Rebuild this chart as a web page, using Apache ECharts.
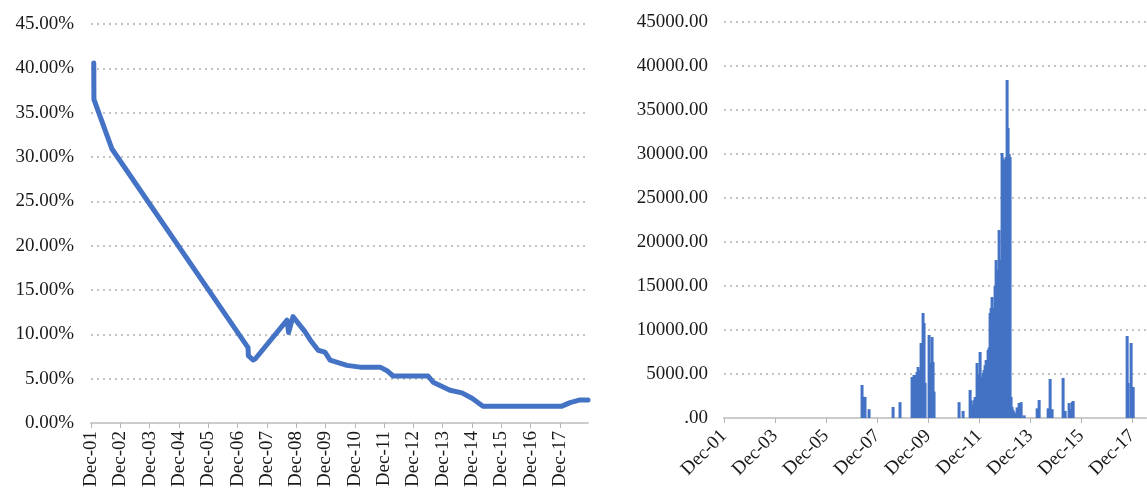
<!DOCTYPE html>
<html><head><meta charset="utf-8">
<script src="https://cdn.jsdelivr.net/npm/echarts@6/dist/echarts.min.js"></script>
<style>html,body{margin:0;padding:0;background:#fff}#c{width:1147px;height:493px}</style>
</head><body><div id="c"></div>
<script>
// Left chart: rate series (percent)
const rateDates = ["2002-01-05","2002-01-07","2002-08-19","2007-04-10","2007-04-14","2007-06-11","2007-07-15","2008-08-09","2008-08-28","2008-10-22","2009-03-19","2009-05-22","2009-09-01","2009-11-25","2010-01-28","2010-08-25","2011-02-07","2011-10-13","2012-01-07","2012-03-22","2013-06-01","2013-08-04","2014-03-01","2014-07-28","2014-12-01","2015-04-16","2017-12-25","2018-04-06","2018-08-09","2018-11-16"];
const rateValues = [40.6,36.5,30.9,8.5,7.6,7.1,7.3,11.6,10.2,12.0,10.3,9.4,8.2,8.0,7.1,6.5,6.3,6.3,5.9,5.3,5.3,4.6,3.7,3.4,2.8,1.9,1.9,2.3,2.6,2.6];
const leftTickLabels = ["Dec-01","Dec-02","Dec-03","Dec-04","Dec-05","Dec-06","Dec-07","Dec-08","Dec-09","Dec-10","Dec-11","Dec-12","Dec-13","Dec-14","Dec-15","Dec-16","Dec-17"];

// Right chart: volume bars
const volDates = ["2007-04-29","2007-05-13","2007-06-11","2007-08-08","2008-07-17","2008-10-25",
"2009-04-15","2009-04-29","2009-05-13","2009-05-27","2009-06-11","2009-06-25","2009-07-10","2009-07-24","2009-08-08","2009-08-22","2009-09-06","2009-09-20","2009-10-04","2009-10-18",
"2009-12-15","2009-12-29","2010-01-13","2010-01-27","2010-02-11","2010-02-25",
"2011-02-18","2011-04-15",
"2011-07-24","2011-08-08","2011-08-22","2011-09-06","2011-09-20","2011-10-04","2011-10-18","2011-11-02","2011-11-16","2011-12-01","2011-12-15","2011-12-29",
"2012-01-13","2012-01-27","2012-02-11","2012-02-25","2012-03-10","2012-03-24","2012-04-08","2012-04-22","2012-05-06","2012-05-20","2012-06-04","2012-06-18","2012-07-02","2012-07-16","2012-08-01","2012-08-15","2012-08-29","2012-09-13","2012-09-27","2012-10-11","2012-10-25","2012-11-09","2012-11-23","2012-12-08","2012-12-22",
"2013-01-06","2013-01-20","2013-02-04","2013-02-18","2013-03-02","2013-03-16","2013-04-01","2013-04-15","2013-04-29","2013-05-13","2013-05-27","2013-06-11","2013-06-25","2013-07-10","2013-07-24","2013-09-06",
"2014-03-10","2014-04-08","2014-08-15","2014-09-13","2014-10-11",
"2015-03-16","2015-04-15","2015-06-11","2015-07-10","2015-07-24","2015-08-08",
"2017-09-20","2017-10-04","2017-11-16","2017-12-15"];
const volValues = [3750,2400,2400,1000,1250,1800,
4660,2840,4890,4890,3180,5230,5800,2390,5450,8520,8070,11930,10800,4000,
9430,6250,5800,9200,6360,3000,
1800,800,
3180,2000,1480,1500,2000,2390,1200,6250,3980,5000,7500,4320,
4660,5110,5450,6000,6590,6250,7730,8000,11930,12500,13750,11930,12500,15000,17950,16820,14500,21360,18000,16020,30110,29500,29320,25900,29660,
38400,32950,30000,29660,2390,1250,900,680,500,400,1200,900,1700,1400,1800,300,
1100,2040,1100,4430,1000,
4550,800,1700,1000,1800,1930,
9320,3980,8520,3520];
const rightTickLabels = ["Dec-01","Dec-03","Dec-05","Dec-07","Dec-09","Dec-11","Dec-13","Dec-15","Dec-17"];

function monthsSinceDec01(s){const p=s.split('-').map(Number);return (p[0]-2001)*12+(p[1]-12)+(p[2]-1)/30;}

const rateData = rateDates.map((d,i)=>[monthsSinceDec01(d), rateValues[i]]);
const volData = volDates.map((d,i)=>[monthsSinceDec01(d), volValues[i]]);
const leftTicks = leftTickLabels.map((_,i)=>i*12);
const rightTicks = rightTickLabels.map((_,i)=>i*24);

const FONT = 'Liberation Serif';
const textStyle = {fontFamily: FONT, fontSize: 19, color: '#1a1a1a'};
const splitLine = {show:true, lineStyle:{color:'#c2c2c2', width:2, type:[2,4]}};
const axisLine = {show:true, lineStyle:{color:'#cccccc', width:2}};
const axisTick = {show:true, length:5, lineStyle:{color:'#b5b5b5', width:1}};

const chart = echarts.init(document.getElementById('c'), null, {renderer:'canvas'});
chart.setOption({
  animation:false,
  backgroundColor:'#fff',
  grid:[
    {left:91, right:559, top:24, bottom:70},
    {left:724, right:1, top:22, bottom:75}
  ],
  xAxis:[
    {gridIndex:0, type:'value', min:0, max:203.5, axisLine, splitLine:{show:false},
     axisTick:Object.assign({customValues:leftTicks}, axisTick),
     axisLabel:Object.assign({customValues:leftTicks, rotate:90, margin:8,
       formatter:v=>leftTickLabels[Math.round(v/12)]||''}, textStyle)},
    {gridIndex:1, type:'value', min:0, max:198.5, axisLine, splitLine:{show:false},
     axisTick:Object.assign({customValues:rightTicks}, axisTick),
     axisLabel:Object.assign({customValues:rightTicks, rotate:45, margin:15,
       formatter:v=>rightTickLabels[Math.round(v/24)]||''}, textStyle)}
  ],
  yAxis:[
    {gridIndex:0, type:'value', min:0, max:45, interval:5, axisLine:{show:false}, axisTick:{show:false}, splitLine,
     axisLabel:Object.assign({margin:17, formatter:v=>v.toFixed(2)+'%'}, textStyle)},
    {gridIndex:1, type:'value', min:0, max:45000, interval:5000, axisLine:{show:false}, axisTick:{show:false}, splitLine,
     axisLabel:Object.assign({margin:16, formatter:v=>v===0?'.00':v.toFixed(2)}, textStyle)}
  ],
  series:[
    {type:'line', xAxisIndex:0, yAxisIndex:0, data:rateData, showSymbol:false, symbol:'none',
     lineStyle:{color:'#4472C4', width:5, cap:'round', join:'round'}, clip:false},
    {type:'bar', xAxisIndex:1, yAxisIndex:1, data:volData, barWidth:3,
     itemStyle:{color:'#4472C4'}}
  ]
});
</script></body></html>
